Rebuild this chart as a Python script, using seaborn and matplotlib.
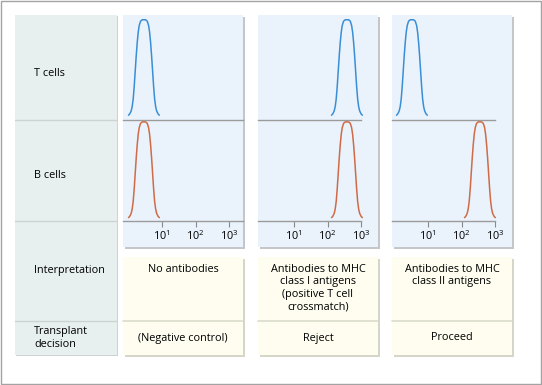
import numpy as np
import pandas as pd
import seaborn as sns
import matplotlib.pyplot as plt
from matplotlib.patches import Rectangle

# peak positions (log10 fluorescence)
panels = ["No antibodies", "Class I", "Class II"]
t_cell_peak = [0.46, 2.58, 0.52]
b_cell_peak = [0.46, 2.58, 2.55]

# half profile of a peak: offset from centre (decades) and relative height
half_offset = [-0.46, -0.42, -0.38, -0.35, -0.32, -0.29, -0.26, -0.23, -0.20, -0.17, -0.14, -0.10, -0.05, 0.0]
half_height = [0.0, 0.015, 0.045, 0.09, 0.17, 0.30, 0.46, 0.62, 0.76, 0.87, 0.94, 0.985, 1.0, 1.0]

interpretation = ["No antibodies",
                  "Antibodies to MHC\nclass I antigens\n(positive T cell\ncrossmatch)",
                  "Antibodies to MHC\nclass II antigens"]
decision = ["(Negative control)", "Reject", "Proceed"]
row_labels = ["T cells", "B cells", "Interpretation", "Transplant\ndecision"]
tick_values = [10, 100, 1000]
tick_labels = [r"$\mathregular{10^{1}}$", r"$\mathregular{10^{2}}$", r"$\mathregular{10^{3}}$"]

W, H = 542, 385
BLUE = "#3a8ed6"
ORANGE = "#cf6b47"
PANEL_BG = "#eaf3fb"
LABEL_BG = "#e7f0ef"
YELLOW_BG = "#fefdf0"
SHADOW = "#c3c7ca"


def profile(centre):
    off = np.array(half_offset)
    hgt = np.array(half_height)
    x = np.concatenate([off, -off[::-1][1:]]) + centre
    y = np.concatenate([hgt, hgt[::-1][1:]])
    return pd.DataFrame({"x": 10 ** x, "y": y})


def fig_rect(x0, y0, x1, y1):
    return [x0 / W, 1 - y1 / H, (x1 - x0) / W, (y1 - y0) / H]


def main():
    sns.set_style("white")
    plt.rcParams["font.family"] = ["Open Sans", "DejaVu Sans"]
    plt.rcParams["mathtext.fontset"] = "custom"
    plt.rcParams["mathtext.rm"] = "Open Sans"

    fig = plt.figure(figsize=(W / 100, H / 100), dpi=100)
    bg = fig.add_axes([0, 0, 1, 1])
    bg.set_xlim(0, W)
    bg.set_ylim(H, 0)
    bg.axis("off")

    bg.add_patch(Rectangle((0.5, 0.5), 540, 383.5, fc="white", ec="#a3a3a3", lw=1))

    # label column
    bg.add_patch(Rectangle((16, 16), 102, 340, fc="#cdd3d2", ec="none"))
    bg.add_patch(Rectangle((15, 15), 102, 340, fc=LABEL_BG, ec="none"))
    for yy in [119.5, 220.5, 320.5]:
        bg.plot([15, 117], [yy, yy], color="#ccd3d1", lw=1)
    text_kw = dict(fontsize=7.8, color="black")
    bg.text(34, 73, row_labels[0], va="center", ha="left", **text_kw)
    bg.text(34, 175, row_labels[1], va="center", ha="left", **text_kw)
    bg.text(34, 270, row_labels[2], va="center", ha="left", **text_kw)
    bg.text(34, 338, row_labels[3], va="center", ha="left", linespacing=1.22, **text_kw)

    panel_left = [123, 258, 392]
    decade_px = 33.5
    first_tick_px = [39, 36, 36]
    pw = 120

    for i in range(len(panels)):
        x0 = panel_left[i]
        x1 = x0 + pw
        # panel and yellow boxes with shadow
        bg.add_patch(Rectangle((x0 + 1.5, 16.5), pw, 232, fc=SHADOW, ec="none"))
        bg.add_patch(Rectangle((x0, 15), pw, 232, fc=PANEL_BG, ec="none"))
        bg.add_patch(Rectangle((x0 + 1.5, 258.5), pw, 98, fc="#d6d6c8", ec="none"))
        bg.add_patch(Rectangle((x0, 257), pw, 98, fc=YELLOW_BG, ec="none"))
        bg.plot([x0, x1], [320.5, 320.5], color="#dcdccd", lw=1.2)
        bg.text(x0 + pw / 2, 263.5, interpretation[i], ha="center", va="top",
                linespacing=1.2, **text_kw)
        bg.text(x0 + pw / 2, 338, decision[i], ha="center", va="center", **text_kw)

        lo = 1 - first_tick_px[i] / decade_px
        hi = lo + pw / decade_px
        xlim = (10 ** lo, 10 ** hi)
        spine_end = xlim[1] if i == 0 else 1000

        for j, (peaks, colour, ytop, ybot, ylim) in enumerate([
                (t_cell_peak, BLUE, 15, 119.5, (-0.045, 1.05)),
                (b_cell_peak, ORANGE, 120, 220.5, (-0.03, 1.02))]):
            ax = fig.add_axes(fig_rect(x0, ytop, x1, ybot))
            ax.patch.set_alpha(0)
            ax.set_xscale("log")
            sns.lineplot(data=profile(peaks[i]), x="x", y="y", ax=ax,
                         color=colour, lw=1.1, sort=False)
            ax.set_xlim(*xlim)
            ax.set_ylim(*ylim)
            ax.set(xlabel="", ylabel="", yticks=[])
            for s in ["top", "left", "right"]:
                ax.spines[s].set_visible(False)
            ax.spines["bottom"].set_color("#9b9b9b")
            ax.spines["bottom"].set_linewidth(1.0)
            ax.spines["bottom"].set_bounds(xlim[0], spine_end)
            ax.xaxis.set_minor_locator(plt.NullLocator())
            if j == 0:
                ax.set_xticks([])
            else:
                ax.set_xticks(tick_values)
                ax.set_xticklabels(tick_labels)
                ax.tick_params(axis="x", direction="out", length=4, width=0.8,
                               color="#8a8a8a", pad=2, labelsize=7.8,
                               labelcolor="black", bottom=True)

    plt.savefig("out.png", dpi=100)


if __name__ == "__main__":
    main()
